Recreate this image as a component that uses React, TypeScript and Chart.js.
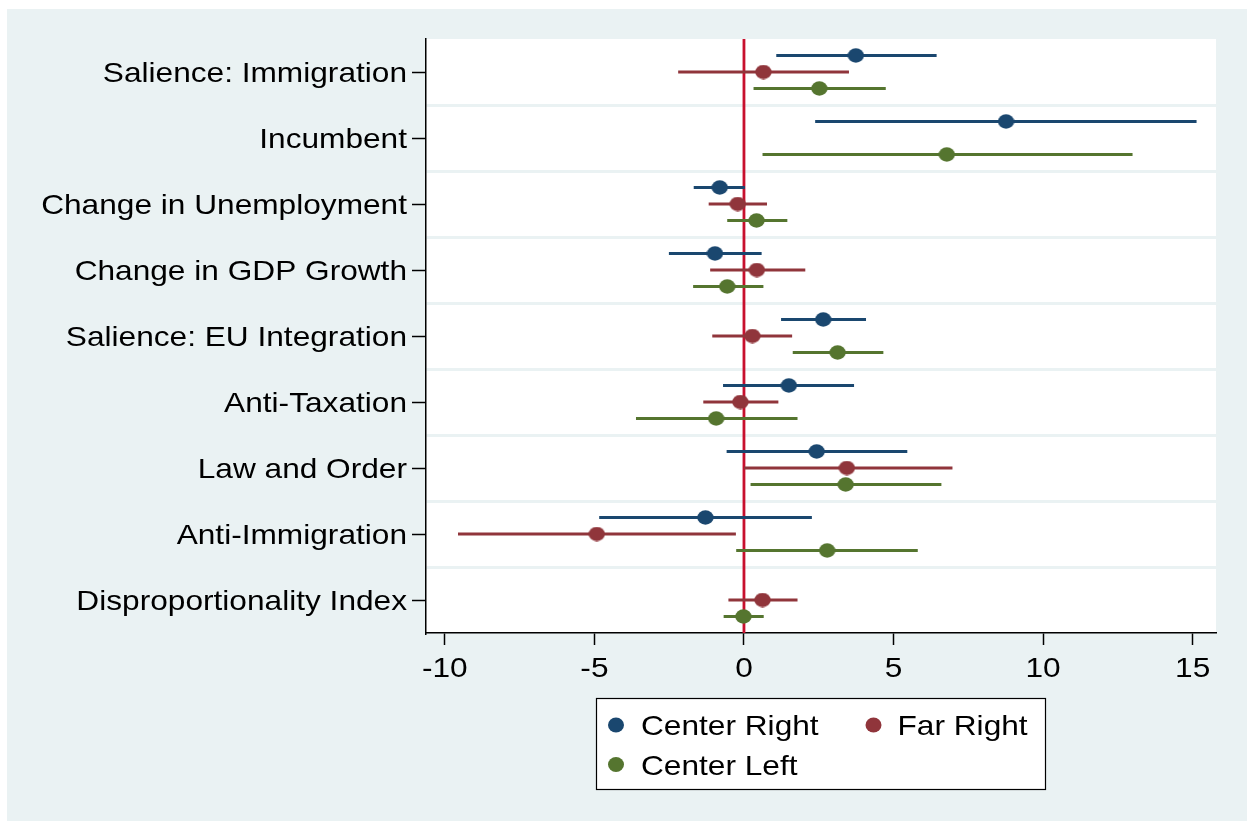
import React, { useEffect, useRef } from 'react';
import { Chart, registerables } from 'chart.js';

Chart.register(...registerables);

// Covariates, listed top to bottom
const categories = [
  'Salience: Immigration',
  'Incumbent',
  'Change in Unemployment',
  'Change in GDP Growth',
  'Salience: EU Integration',
  'Anti-Taxation',
  'Law and Order',
  'Anti-Immigration',
  'Disproportionality Index',
];

const seriesNames = ['Center Right', 'Far Right', 'Center Left'];
const seriesColors = ['#1A476F', '#90353B', '#55752F'];

// Point estimates and confidence bounds (null = not estimated)
const centerRightEst = [3.74, 8.76, -0.81, -0.97, 2.65, 1.5, 2.43, -1.29, null];
const centerRightLow = [1.08, 2.38, -1.68, -2.51, 1.24, -0.7, -0.58, -4.84, null];
const centerRightHigh = [6.44, 15.13, 0.03, 0.59, 4.08, 3.68, 5.46, 2.27, null];

const farRightEst = [0.65, null, -0.21, 0.43, 0.28, -0.12, 3.44, -4.92, 0.62];
const farRightLow = [-2.2, null, -1.18, -1.13, -1.06, -1.36, 0.0, -9.56, -0.52];
const farRightHigh = [3.51, null, 0.77, 2.05, 1.61, 1.15, 6.97, -0.27, 1.79];

const centerLeftEst = [2.52, 6.78, 0.42, -0.56, 3.13, -0.93, 3.4, 2.78, -0.02];
const centerLeftLow = [0.32, 0.62, -0.56, -1.7, 1.63, -3.61, 0.22, -0.26, -0.68];
const centerLeftHigh = [4.74, 12.99, 1.45, 0.65, 4.66, 1.79, 6.6, 5.81, 0.66];

const xTickValues = [-10, -5, 0, 5, 10, 15];
const xMin = -10.63;
const xMax = 15.78;

const BG = '#EAF2F3';
const FONT = '"Liberation Sans", Arial, Helvetica, sans-serif';
const TEXT_STRETCH = 1.13;

type Num = number | null;

function ellipseImage(color: string, w: number, h: number): HTMLCanvasElement {
  const c = document.createElement('canvas');
  c.width = w;
  c.height = h;
  const g = c.getContext('2d')!;
  g.fillStyle = color;
  g.beginPath();
  g.ellipse(w / 2, h / 2, w / 2 - 0.3, h / 2 - 0.3, 0, 0, Math.PI * 2);
  g.fill();
  return c;
}

export default function App() {
  const canvasRef = useRef<HTMLCanvasElement | null>(null);

  useEffect(() => {
    if (!canvasRef.current) return;

    const groups: { est: Num[]; lo: Num[]; hi: Num[] }[] = [
      { est: centerRightEst, lo: centerRightLow, hi: centerRightHigh },
      { est: farRightEst, lo: farRightLow, hi: farRightHigh },
      { est: centerLeftEst, lo: centerLeftLow, hi: centerLeftHigh },
    ];
    const offsets = [-0.25, 0, 0.25];

    const pointSets: any[] = [];
    const intervalSets: any[] = [];
    groups.forEach((g, s) => {
      const pts: any[] = [];
      const seg: any[] = [];
      g.est.forEach((v, i) => {
        if (v === null) return;
        const y = i + offsets[s];
        pts.push({ x: v, y });
        seg.push({ x: g.lo[i], y }, { x: g.hi[i], y }, { x: g.hi[i], y: null });
      });
      intervalSets.push({
        label: seriesNames[s] + ' CI',
        data: seg,
        showLine: true,
        spanGaps: false,
        borderColor: seriesColors[s],
        borderWidth: 3,
        pointRadius: 0,
        order: 2,
      });
      pointSets.push({
        label: seriesNames[s],
        data: pts,
        backgroundColor: seriesColors[s],
        borderWidth: 0,
        pointRadius: 8,
        pointStyle: ellipseImage(seriesColors[s], 17, 15),
        order: 1,
      });
    });

    const decor = {
      id: 'decor',
      beforeDraw(chart: any) {
        const { ctx, width, height, chartArea: a } = chart;
        ctx.save();
        ctx.fillStyle = '#ffffff';
        ctx.fillRect(0, 0, width, height);
        ctx.fillStyle = BG;
        ctx.fillRect(7, 9, width - 7, height - 9);
        ctx.fillStyle = '#ffffff';
        ctx.fillRect(a.left, a.top, a.right - a.left, a.bottom - a.top);
        ctx.restore();
      },
      beforeDatasetsDraw(chart: any) {
        const { ctx, chartArea: a } = chart;
        const x0 = chart.scales.x.getPixelForValue(0);
        ctx.save();
        ctx.strokeStyle = '#C8102E';
        ctx.lineWidth = 2.8;
        ctx.beginPath();
        ctx.moveTo(x0, a.top);
        ctx.lineTo(x0, a.bottom);
        ctx.stroke();
        ctx.restore();
      },
      afterDraw(chart: any) {
        const { ctx, chartArea: a } = chart;
        const ys = chart.scales.y;
        const xs = chart.scales.x;
        ctx.save();
        ctx.fillStyle = '#000';
        ctx.textBaseline = 'alphabetic';

        // category labels
        ctx.font = `28px ${FONT}`;
        ctx.textAlign = 'right';
        categories.forEach((c, i) => {
          const py = ys.getPixelForValue(i);
          ctx.save();
          ctx.translate(a.left - 19, py + 10);
          ctx.scale(TEXT_STRETCH, 1);
          ctx.fillText(c, 0, 0);
          ctx.restore();
        });

        // value labels
        ctx.textAlign = 'center';
        xTickValues.forEach((v) => {
          const px = xs.getPixelForValue(v);
          ctx.save();
          ctx.translate(px, a.bottom + 44);
          ctx.scale(TEXT_STRETCH, 1);
          ctx.fillText(String(v), 0, 0);
          ctx.restore();
        });

        // legend
        const lx = 596;
        const ly = 698;
        const lw = 450;
        const lh = 92;
        ctx.fillStyle = '#ffffff';
        ctx.fillRect(lx, ly, lw, lh);
        ctx.strokeStyle = '#000';
        ctx.lineWidth = 1.2;
        ctx.strokeRect(lx + 0.5, ly + 0.5, lw - 1, lh - 1);
        const slots = [
          { mx: 616, my: 725, tx: 641, ty: 735 },
          { mx: 873.5, my: 725, tx: 897.5, ty: 735 },
          { mx: 616, my: 764.5, tx: 641, ty: 774.5 },
        ];
        ctx.textAlign = 'left';
        pointSets.forEach((ds, k) => {
          const sl = slots[k];
          ctx.fillStyle = ds.backgroundColor;
          ctx.beginPath();
          ctx.ellipse(sl.mx, sl.my, 8, 7.5, 0, 0, Math.PI * 2);
          ctx.fill();
          ctx.fillStyle = '#000';
          ctx.save();
          ctx.translate(sl.tx, sl.ty);
          ctx.scale(TEXT_STRETCH, 1);
          ctx.fillText(ds.label, 0, 0);
          ctx.restore();
        });
        ctx.restore();
      },
    };

    const yTickVals: number[] = [];
    for (let v = 0; v <= categories.length - 1; v += 0.5) yTickVals.push(v);

    const chart = new Chart(canvasRef.current, {
      type: 'scatter',
      data: { datasets: [...pointSets, ...intervalSets] },
      options: {
        responsive: false,
        animation: false,
        events: [],
        layout: { padding: { left: 7, top: 39, right: 31, bottom: 0 } },
        plugins: {
          legend: { display: false },
          tooltip: { enabled: false },
        },
        scales: {
          x: {
            type: 'linear',
            min: xMin,
            max: xMax,
            afterBuildTicks: (scale: any) => {
              scale.ticks = xTickValues.map((value) => ({ value }));
            },
            afterFit: (scale: any) => {
              scale.height = 821 - 633;
            },
            ticks: { display: false },
            grid: {
              drawOnChartArea: false,
              drawTicks: true,
              tickLength: 12,
              tickColor: '#000',
              tickWidth: 1.5,
            },
            border: { display: true, color: '#000', width: 1.5 },
          },
          y: {
            type: 'linear',
            reverse: true,
            min: -0.5,
            max: categories.length - 0.5,
            afterBuildTicks: (scale: any) => {
              scale.ticks = yTickVals.map((value) => ({ value }));
            },
            afterFit: (scale: any) => {
              scale.width = 426 - 7;
            },
            ticks: { display: false },
            grid: {
              drawOnChartArea: true,
              drawTicks: true,
              tickLength: 14,
              lineWidth: 3,
              tickWidth: 1.5,
              color: (c: any) => (c.tick && c.tick.value % 1 !== 0 ? BG : 'rgba(0,0,0,0)'),
              tickColor: (c: any) => (c.tick && c.tick.value % 1 === 0 ? '#000' : 'rgba(0,0,0,0)'),
            },
            border: { display: true, color: '#000', width: 1.5 },
          },
        },
      } as any,
      plugins: [decor],
    });

    return () => chart.destroy();
  }, []);

  return (
    <div style={{ position: 'absolute', left: 0, top: 0, width: 1247, height: 821 }}>
      <canvas ref={canvasRef} width={1247} height={821} />
    </div>
  );
}
